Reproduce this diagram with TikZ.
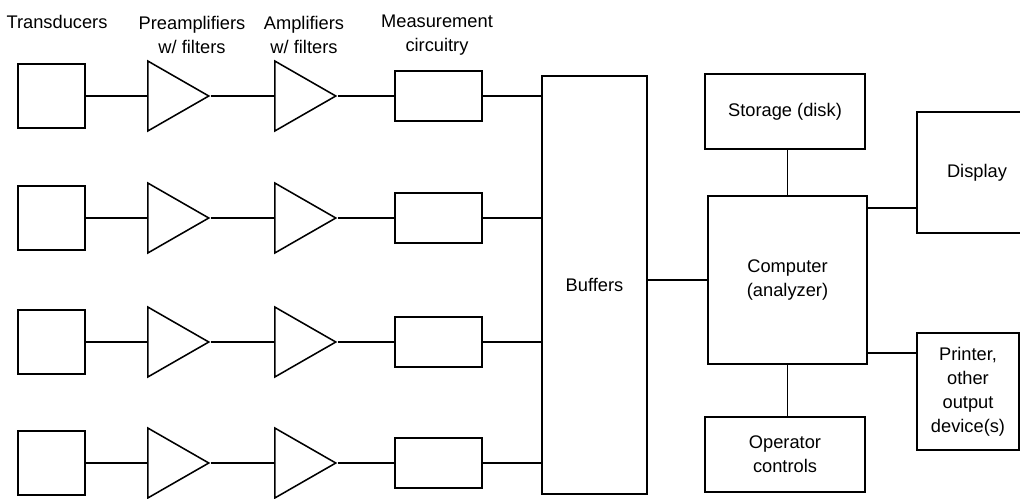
\documentclass[tikz,border=0pt]{standalone}
\usepackage{fontspec}
\setmainfont{Liberation Sans}
\usetikzlibrary{positioning,shapes.geometric}

\begin{document}
\begin{tikzpicture}[x=0.25mm,y=-0.25mm,line width=1.1pt,
  every node/.style={font=\fontsize{13}{17}\selectfont},
  trans/.style={draw,minimum width=16.75mm,minimum height=16mm,inner sep=0},
  amp/.style={draw,isosceles triangle,isosceles triangle stretches,minimum width=17.5mm,minimum height=15.25mm,inner sep=0,anchor=west},
  meas/.style={draw,minimum width=21.75mm,minimum height=12.5mm,inner sep=0},
  blk/.style={draw,align=center,inner sep=0}]
\useasboundingbox (0,0) rectangle (1020,498);
% column headings
\node[align=center] (hT) at (57,22) {Transducers};
\node[align=center] (hP) at (192,35) {Preamplifiers\\w/ filters};
\node[align=center] (hA) at (304,35) {Amplifiers\\w/ filters};
\node[align=center] (hM) at (437,35) {Measurement\\circuitry};
% channel 1
\node[trans] (t1) at (51.5,96) {};
\node[amp] (a1) at (147,96) {};
\node[amp] (b1) at (274,96) {};
\node[meas] (m1) at (438.5,96) {};
% channel 2
\node[trans] (t2) at (51.5,218) {};
\node[amp] (a2) at (147,218) {};
\node[amp] (b2) at (274,218) {};
\node[meas] (m2) at (438.5,218) {};
% channel 3
\node[trans] (t3) at (51.5,342) {};
\node[amp] (a3) at (147,342) {};
\node[amp] (b3) at (274,342) {};
\node[meas] (m3) at (438.5,342) {};
% channel 4
\node[trans] (t4) at (51.5,463) {};
\node[amp] (a4) at (147,463) {};
\node[amp] (b4) at (274,463) {};
\node[meas] (m4) at (438.5,463) {};
% back end
\node[blk,minimum width=26.25mm,minimum height=104.5mm] (buf) at (594.5,285) {Buffers};
\node[blk,minimum width=39.75mm,minimum height=42mm] (cpu) at (787.5,280) {Computer\\(analyzer)};
\node[blk,minimum width=40mm,minimum height=18.75mm] (sto) at (785,111.5) {Storage (disk)};
\node[blk,minimum width=40mm,minimum height=18.75mm] (opr) at (785,454.5) {Operator\\controls};
\node[blk,minimum width=30mm,minimum height=30.25mm] (dsp) at (977,172.5) {Display};
\node[blk,minimum width=25.5mm,minimum height=29.25mm] (prn) at (968,391.5) {Printer,\\other\\output\\device(s)};
\draw (t1) -- (a1.west); \draw (a1.apex) -- (b1.west); \draw (b1.apex) -- (m1); \draw (m1) -- (m1 -| buf.west);
\draw (t2) -- (a2.west); \draw (a2.apex) -- (b2.west); \draw (b2.apex) -- (m2); \draw (m2) -- (m2 -| buf.west);
\draw (t3) -- (a3.west); \draw (a3.apex) -- (b3.west); \draw (b3.apex) -- (m3); \draw (m3) -- (m3 -| buf.west);
\draw (t4) -- (a4.west); \draw (a4.apex) -- (b4.west); \draw (b4.apex) -- (m4); \draw (m4) -- (m4 -| buf.west);
\draw (cpu.west) -- (cpu.west -| buf.east);
\draw (cpu.north) -- (cpu.north |- sto.south);
\draw (cpu.south) -- (cpu.south |- opr.north);
\draw ([yshift=-3.25mm]cpu.north east) -- ([yshift=-3.25mm]cpu.north east -| dsp.west);
\draw ([yshift=3mm]cpu.south east) -- ([yshift=3mm]cpu.south east -| prn.west);
\end{tikzpicture}
\end{document}
